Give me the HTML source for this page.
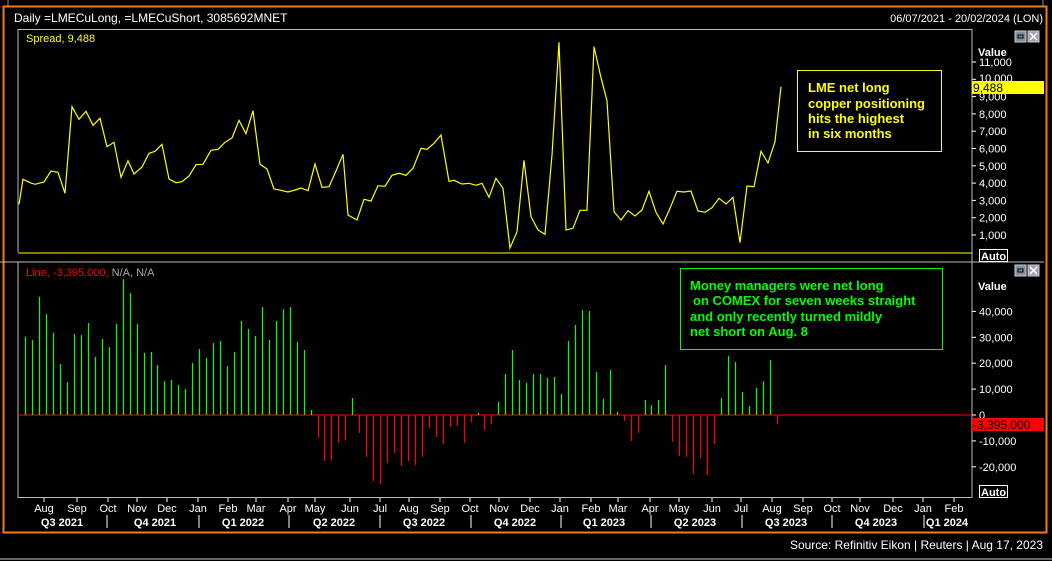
<!DOCTYPE html>
<html><head><meta charset="utf-8"><style>
html,body{margin:0;padding:0;background:#000;width:1052px;height:561px;overflow:hidden}
svg{display:block}
text{font-family:"Liberation Sans",sans-serif}
</style></head><body>
<svg id="s" width="1052" height="561" xmlns="http://www.w3.org/2000/svg">
<rect width="1052" height="561" fill="#000"/>
<line x1="8" y1="0" x2="8" y2="6" stroke="#888"/>
<line x1="1043" y1="0" x2="1043" y2="6" stroke="#888"/>
<rect x="3.5" y="6.5" width="1043" height="526" fill="none" stroke="#f47d12" stroke-width="2"/>
<text x="14" y="22" fill="#fff" font-size="12">Daily =LMECuLong, =LMECuShort, 3085692MNET</text>
<text x="1043" y="22" fill="#fff" font-size="11" text-anchor="end">06/07/2021 - 20/02/2024 (LON)</text>
<polyline points="18,252 18,29.5 972,29.5 972,498" fill="none" stroke="#bbb"/>
<line x1="18" y1="253" x2="972" y2="253" stroke="#ff0"/>
<line x1="0" y1="262" x2="1044" y2="262" stroke="#bbb"/>
<line x1="18" y1="262" x2="18" y2="498" stroke="#bbb"/>
<line x1="18" y1="497.5" x2="972" y2="497.5" stroke="#bbb"/>
<text x="26" y="42" fill="#ff0" font-size="11">Spread, 9,488</text>
<text x="26" y="276" fill="#f00" font-size="11">Line, -3,395.000, <tspan fill="#aaa">N/A, N/A</tspan></text>
<g id="icons"></g>
<text x="978" y="56" fill="#fff" font-size="11" font-weight="bold">Value</text>
<text x="978" y="290" fill="#fff" font-size="11" font-weight="bold">Value</text>
<g id="ax" fill="#fff" font-size="11"></g>
<rect x="972" y="81" width="72" height="13" fill="#ff0"/>
<text x="973" y="92" fill="#000" font-size="12">9,488</text>
<rect x="972" y="418" width="72" height="13" fill="#f00"/>
<text x="973" y="429" fill="#000" font-size="12">-3,395.000</text>
<rect x="979.5" y="249.5" width="28" height="12" fill="#000" stroke="#fff"/>
<text x="981" y="260" fill="#fff" font-size="11" font-weight="bold">Auto</text>
<rect x="979.5" y="485.5" width="28" height="12" fill="#000" stroke="#fff"/>
<text x="981" y="496" fill="#fff" font-size="11" font-weight="bold">Auto</text>
<line x1="18" y1="415" x2="972" y2="415" stroke="#f00"/>
<g id="bars"></g>
<polyline id="ln" fill="none" stroke="#ff0" stroke-width="1.2"/>
<rect x="797.5" y="70.5" width="144" height="81" fill="#000" stroke="#ff0"/>
<g fill="#ff0" font-size="13" font-weight="bold">
<text x="808" y="92">LME net long</text>
<text x="808" y="108">copper positioning</text>
<text x="808" y="123">hits the highest</text>
<text x="808" y="138">in six months</text></g>
<rect x="680.5" y="268.5" width="262" height="81" fill="#000" stroke="#0f0"/>
<g fill="#0f0" font-size="13" font-weight="bold">
<text x="690" y="290">Money managers were net long</text>
<text x="693" y="305">on COMEX for seven weeks straight</text>
<text x="690" y="321">and only recently turned mildly</text>
<text x="690" y="336">net short on Aug. 8</text></g>
<g id="xa" fill="#fff" font-size="11"></g>
<text x="1043" y="549" fill="#fff" font-size="12" text-anchor="end">Source: Refinitiv Eikon | Reuters | Aug 17, 2023</text>
<line x1="0" y1="559" x2="1052" y2="559" stroke="#ccc"/>
</svg>
<script>
var NS="http://www.w3.org/2000/svg";
function el(p,t,a,txt){var e=document.createElementNS(NS,t);for(var k in a)e.setAttribute(k,a[k]);if(txt!=null)e.textContent=txt;document.getElementById(p).appendChild(e);return e;}
var pts=[[19,204.3],[23,179.3],[30,182.7],[35,184.3],[44,182],[51,171],[58,172.3],[65,193.3],[72,106.7],[79,119.3],[86,111.3],[93,125.3],[100,118.3],[107,146.7],[114,142.3],[121,177.3],[128,160.7],[134,174],[142,167],[149,153.3],[155,151.3],[162,144.3],[169,179],[176,182.7],[182,181.7],[189,176],[196,164.7],[203,164.3],[211,150.3],[218,149.3],[225,142.3],[232,138],[239,120.3],[246,133.7],[253,110.7],[260,164.3],[267,169],[274,189],[281,190.3],[288,192],[295,190],[301,188],[308,190.7],[315,164],[322,187.3],[329,186.7],[336,171],[343,154.3],[348,215],[357,220],[364,199.3],[371,201],[378,185.7],[385,186.3],[392,175.3],[399,173.3],[406,175.3],[413,168.3],[421,148.3],[427,149.3],[434,143.3],[441,135],[449,181.3],[454,180.3],[462,184],[469,183.3],[476,185.3],[482,183.3],[489,197.3],[496,178.3],[503,188.3],[510,248],[517,231.7],[524,160.3],[531,216.7],[538,230],[545,234.3],[552,155],[559,42.3],[566,230],[573,228.3],[580,210.3],[587,210.3],[594,46.7],[601,77.7],[607,100.7],[614,211.7],[621,220],[628,210.7],[635,216],[642,210],[649,191.3],[656,212.3],[663,224],[670,208.3],[677,191.3],[684,192],[691,191],[698,211],[705,212.3],[712,207.7],[719,198.3],[726,204],[733,197.3],[740,242.7],[747,186],[754,186.7],[761,151.3],[768,163],[775,141.7],[781,86.7]];
document.getElementById("ln").setAttribute("points",pts.map(function(p){return p.join(",")}).join(" "));
var z4=[230,240,110,162,218,312,366,222,225,189,291,237,261,192,57,99,192,279,276,315,363,360,375,387,309,267,294,249,243,318,276,183,207,228,141,240,183,147,141,246,270,450,533,603,600,549,540,414,519,591,663,672,609,579,618,603,615];
var z5=[591,504,531,552,501,498,549,486,459,510,492,426,342,270,360,369,342,342,354,351,402,243,195,150,153,336,417,330,456,483,543,519,420,435,420,315,546,588,591,642,594,645,552,414,288,306,396,438,384,363,300,492];
var all=z4.concat(z5);
var sp=(776.7-25.3)/(all.length-1);
all.forEach(function(y,i){var x=Math.round(25.3+i*sp)+0.5, h=(465-y)/3, c=h>=0?"#0f0":"#f00";
el("bars","line",{x1:x,x2:x,y1:415,y2:415-h,stroke:c,"stroke-width":1.2});});
for(var v=1;v<=11;v++){var y=252.3-v*17.3; el("ax","line",{x1:972,x2:976,y1:y,y2:y,stroke:"#fff"}); if(v!=10)el("ax","text",{x:979,y:y+4},v==1?"1,000":(v+",000"));}
el("ax","text",{x:979,y:82},"10,000");
for(var v=-2;v<=4;v++){var y=415-v*25.9;el("ax","line",{x1:972,x2:976,y1:y,y2:y,stroke:"#fff"});
el("ax","text",{x:979,y:y+4},v==0?"0":(v*10)+",000");}
var m=[["Aug",44],["Sep",77],["Oct",108],["Nov",137],["Dec",167],["Jan",198],["Feb",228],["Mar",256],["Apr",288],["May",315],["Jun",350],["Jul",380],["Aug",409],["Sep",440],["Oct",470],["Nov",499],["Dec",530],["Jan",560],["Feb",591],["Mar",618],["Apr",650],["May",679],["Jun",712],["Jul",741],["Aug",772],["Sep",803],["Oct",832],["Nov",860],["Dec",893],["Jan",923],["Feb",954]];
m.forEach(function(a){el("xa","text",{x:a[1],y:512,"text-anchor":"middle"},a[0]);el("xa","line",{x1:a[1],x2:a[1],y1:498,y2:502,stroke:"#fff"});});
var q=[["Q3 2021",62],["Q4 2021",155],["Q1 2022",243],["Q2 2022",334],["Q3 2022",424],["Q4 2022",515],["Q1 2023",604],["Q2 2023",695],["Q3 2023",786],["Q4 2023",876],["Q1 2024",947]];
q.forEach(function(a){el("xa","text",{x:a[1],y:526,"text-anchor":"middle","font-weight":"bold"},a[0]);});
[107,199,289,380,471,561,651,742,832,924].forEach(function(x){el("xa","line",{x1:x,x2:x,y1:515,y2:528,stroke:"#fff"});});
[[1015,31],[1015,265]].forEach(function(p){
el("icons","rect",{x:p[0],y:p[1],width:11,height:11,fill:"#8090a0",stroke:"#ccc"});
el("icons","rect",{x:p[0]+3,y:p[1]+4,width:5,height:3,fill:"none",stroke:"#000"});
el("icons","rect",{x:p[0]+13,y:p[1],width:11,height:11,fill:"#a0a0b0",stroke:"#ccc"});
el("icons","path",{d:"M"+(p[0]+15)+" "+(p[1]+2)+"l7 7m0 -7l-7 7",stroke:"#fff","stroke-width":1.5});});
</script>
</body></html>
